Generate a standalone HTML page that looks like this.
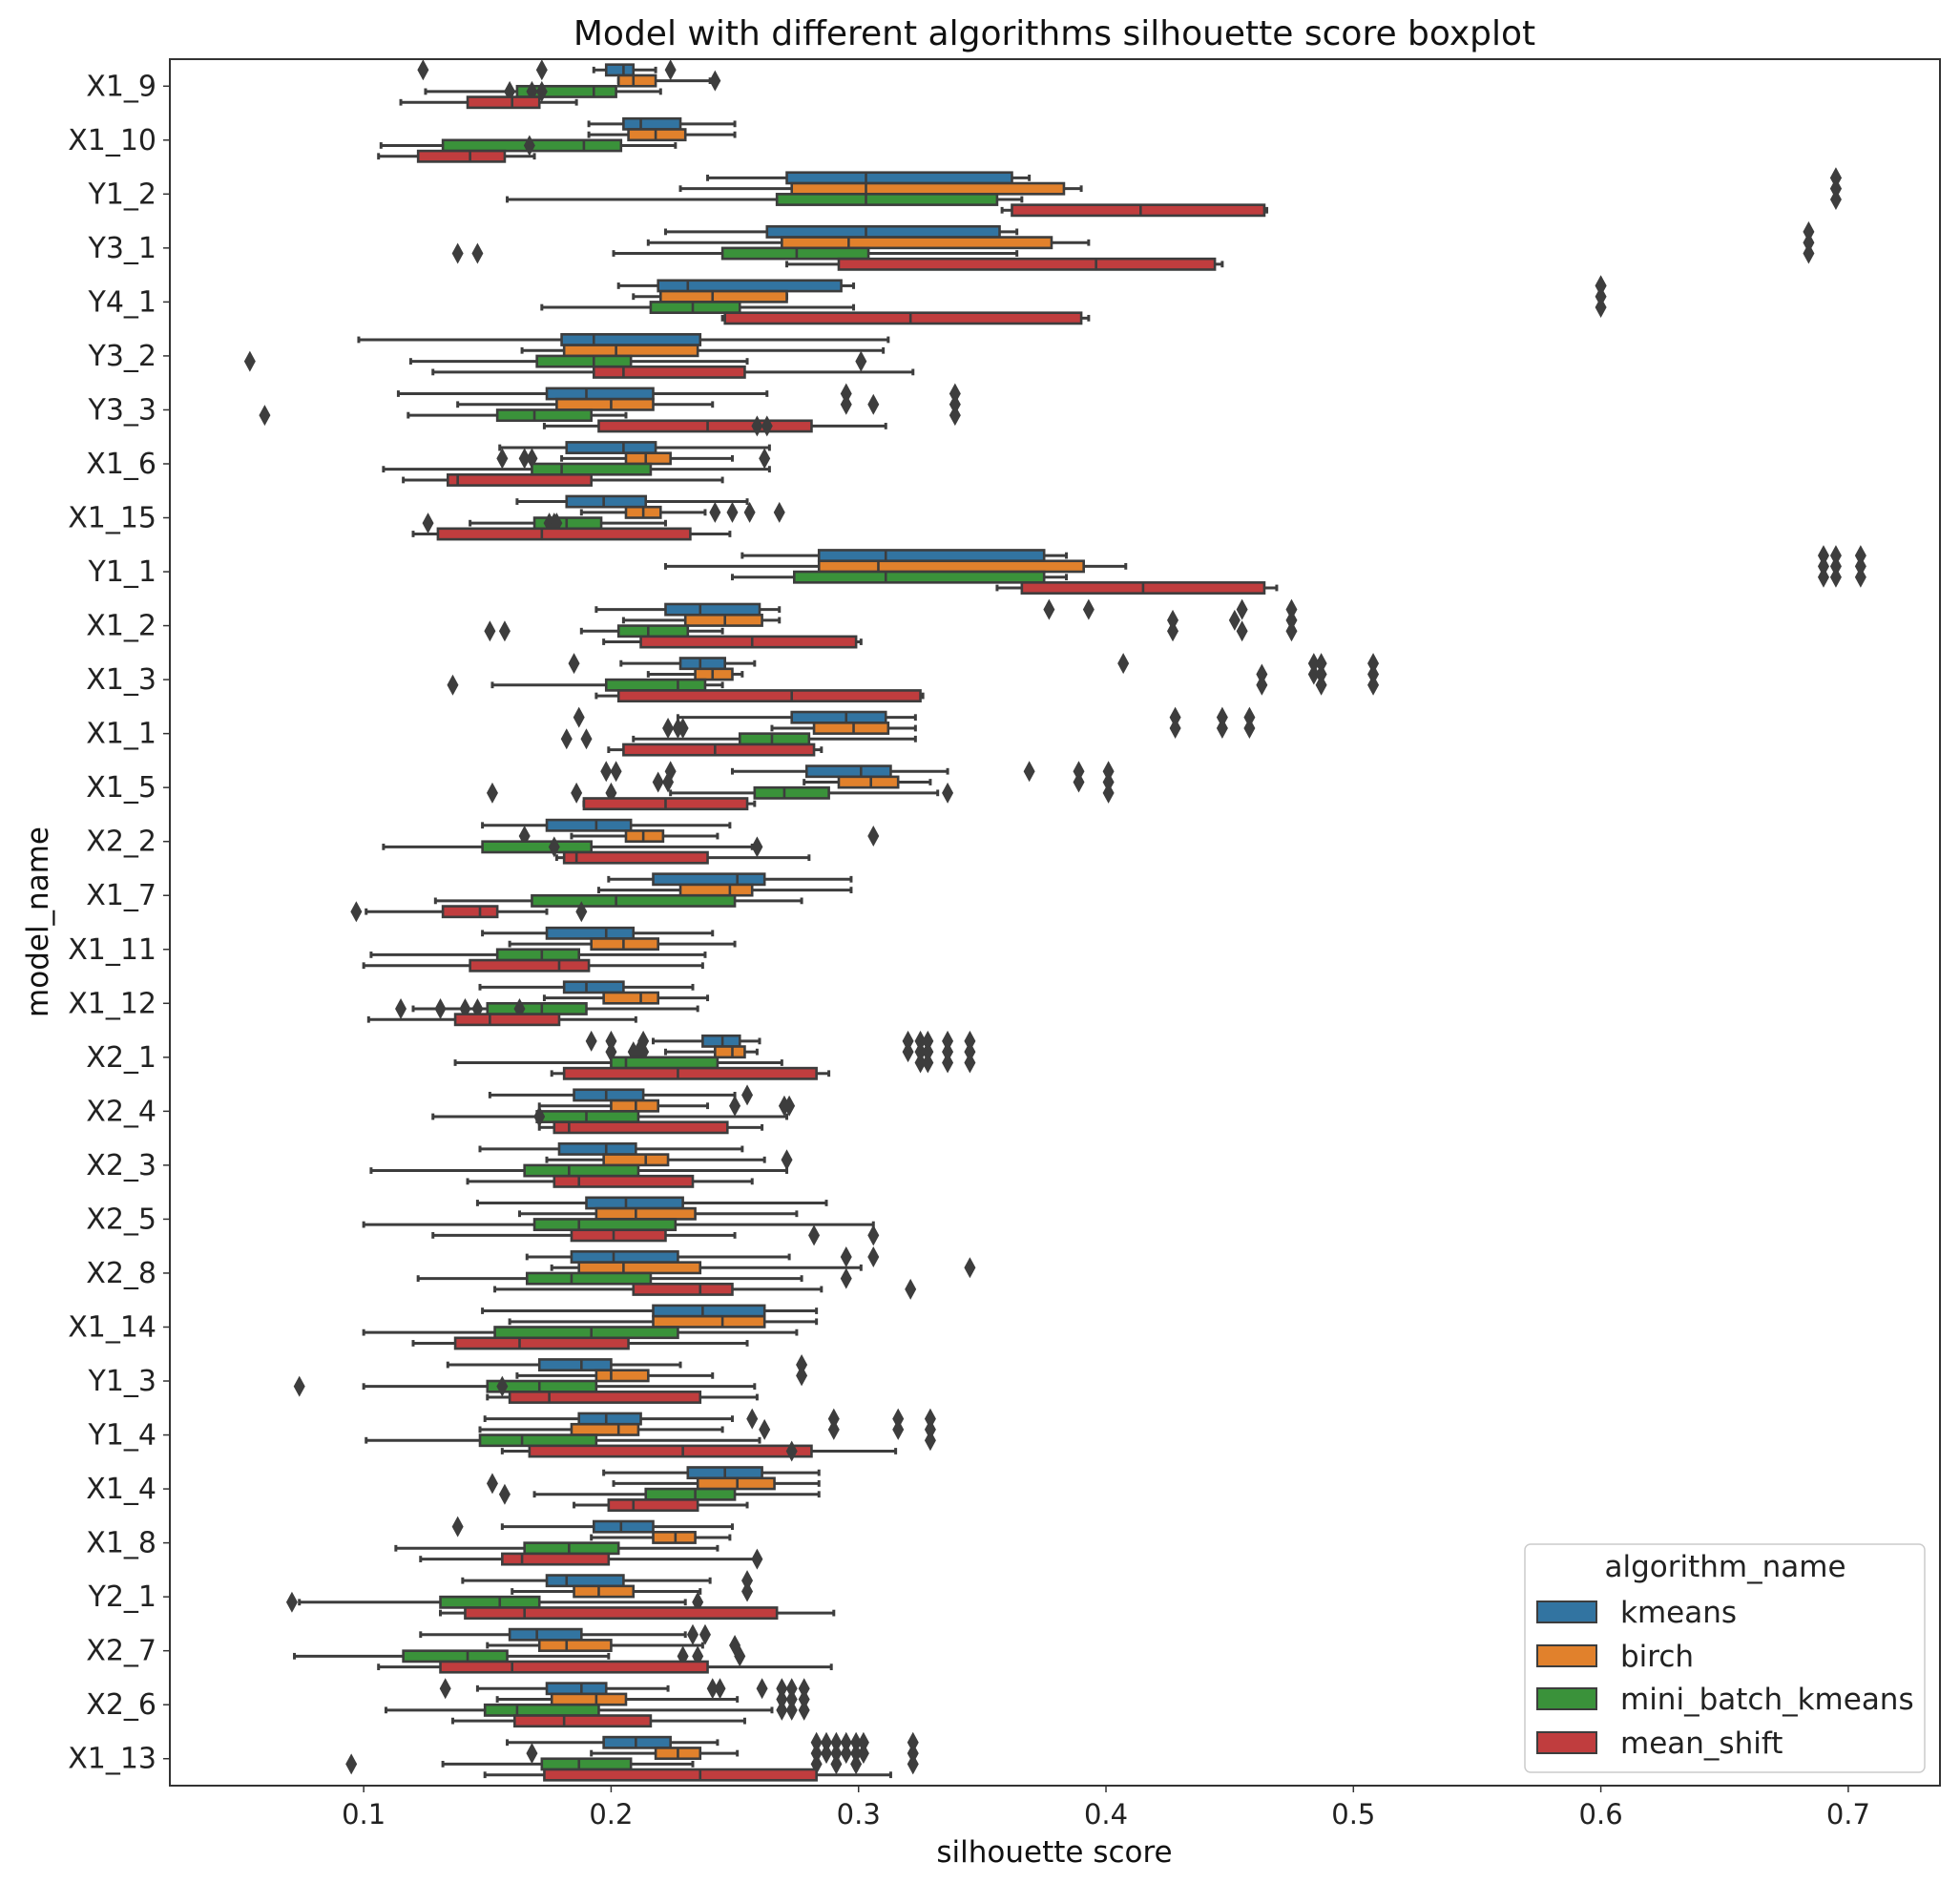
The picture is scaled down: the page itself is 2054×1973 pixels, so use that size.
<!DOCTYPE html>
<html><head><meta charset="utf-8"><style>
html,body{margin:0;padding:0;background:#fff;}
svg{display:block;font-family:"DejaVu Sans","Liberation Sans",sans-serif;}
</style></head><body>
<svg id="chart" width="2054" height="1973" viewBox="0 0 2054 1973" xmlns="http://www.w3.org/2000/svg">
<rect x="0" y="0" width="2054" height="1973" fill="#fff"/>
<text x="1105" y="47" text-anchor="middle" font-size="36" fill="#111">Model with different algorithms silhouette score boxplot</text>
<text x="1105" y="1951" text-anchor="middle" font-size="31" fill="#111">silhouette score</text>
<text x="0" y="0" transform="translate(50,966) rotate(-90)" text-anchor="middle" font-size="31" fill="#111">model_name</text>
<g id="marks"></g>
<rect x="178" y="62" width="1855" height="1809" fill="none" stroke="#333" stroke-width="2"/>
<g id="legend">
<rect x="1598" y="1618" width="419" height="239" rx="6" fill="#fff" fill-opacity="0.85" stroke="#ccc" stroke-width="1.5"/>
<text x="1808" y="1652" text-anchor="middle" font-size="31" fill="#222">algorithm_name</text>
</g>
</svg>
<script>
const categories = ["X1_9","X1_10","Y1_2","Y3_1","Y4_1","Y3_2","Y3_3","X1_6","X1_15","Y1_1","X1_2","X1_3","X1_1","X1_5","X2_2","X1_7","X1_11","X1_12","X2_1","X2_4","X2_3","X2_5","X2_8","X1_14","Y1_3","Y1_4","X1_4","X1_8","Y2_1","X2_7","X2_6","X1_13"];
const algorithms = ["kmeans","birch","mini_batch_kmeans","mean_shift"];
const xTicks = [0.1,0.2,0.3,0.4,0.5,0.6,0.7];
const xTickLabels = ["0.1","0.2","0.3","0.4","0.5","0.6","0.7"];
// five-number summaries [whisker low, q1, median, q3, whisker high]
const kmeansStats = [[.193,.198,.205,.209,.218],[.191,.205,.212,.228,.250],[.239,.271,.303,.362,.369],[.222,.263,.303,.357,.364],[.203,.219,.231,.293,.298],[.098,.180,.193,.236,.312],[.114,.174,.190,.217,.263],[.155,.182,.205,.218,.264],[.162,.182,.197,.214,.255],[.253,.284,.311,.375,.384],[.194,.222,.236,.260,.268],[.204,.228,.236,.246,.258],[.227,.273,.295,.311,.323],[.249,.279,.301,.313,.336],[.148,.174,.194,.208,.248],[.199,.217,.251,.262,.297],[.148,.174,.198,.209,.241],[.147,.181,.190,.205,.233],[.217,.237,.245,.252,.260],[.151,.185,.198,.213,.250],[.147,.179,.198,.210,.253],[.146,.190,.206,.229,.287],[.166,.184,.201,.227,.272],[.148,.217,.237,.262,.283],[.134,.171,.188,.200,.228],[.149,.187,.198,.212,.249],[.197,.231,.246,.261,.284],[.156,.193,.204,.217,.249],[.140,.174,.182,.205,.240],[.123,.159,.170,.188,.230],[.146,.174,.188,.198,.223],[.158,.197,.210,.224,.243]];
const kmeansOutliers = [[.124,.172,.224],[],[.695,.695],[.684],[.600,.600],[],[.295,.339],[],[],[.690,.695,.705],[.377,.393,.455,.475],[.185,.407,.484,.487,.508],[.187,.428,.447,.458],[.198,.202,.224,.369,.389,.401],[],[],[],[],[.192,.200,.213,.320,.325,.328,.336,.345],[.255],[],[],[.295,.306],[],[.277],[.257,.290,.316,.329],[],[.138],[.255],[.233,.238],[.133,.241,.244,.261,.269,.273,.278],[.283,.287,.291,.295,.299,.302,.322]];
const birchStats = [[.203,.203,.209,.218,.240],[.191,.207,.218,.230,.250],[.228,.273,.303,.383,.390],[.215,.269,.296,.378,.393],[.209,.220,.241,.271,.271],[.164,.181,.202,.235,.310],[.138,.178,.200,.217,.241],[.180,.206,.214,.224,.249],[.188,.206,.213,.220,.238],[.222,.284,.308,.391,.408],[.205,.230,.246,.261,.268],[.215,.234,.241,.249,.253],[.265,.282,.298,.312,.323],[.278,.292,.305,.316,.329],[.184,.206,.213,.221,.243],[.195,.228,.248,.257,.297],[.159,.192,.205,.219,.250],[.173,.197,.212,.219,.239],[.222,.242,.249,.254,.259],[.171,.200,.210,.219,.239],[.174,.197,.214,.223,.262],[.163,.194,.210,.234,.275],[.176,.187,.205,.236,.301],[.159,.217,.245,.262,.283],[.162,.194,.200,.215,.241],[.147,.184,.203,.211,.245],[.201,.235,.251,.266,.284],[.192,.217,.226,.234,.248],[.160,.185,.195,.209,.236],[.150,.171,.182,.200,.237],[.154,.176,.194,.206,.251],[.192,.218,.227,.236,.251]];
const birchOutliers = [[.242],[],[.695,.695],[.684],[.600],[],[.295,.306,.339],[.156,.165,.168,.262],[.242,.249,.256,.268],[.690,.695,.705],[.427,.452,.475],[.463,.484,.487,.508],[.223,.227,.229,.428,.447,.458],[.219,.223,.389,.401],[.165,.306],[],[],[],[.200,.209,.211,.213,.320,.325,.328,.336,.345],[.250,.270,.272],[.271],[],[.345],[],[.277],[.262,.290,.316,.329],[.152],[],[.255],[.250],[.269,.273,.278],[.168,.283,.287,.291,.295,.299,.302,.322]];
const mbkStats = [[.125,.162,.193,.202,.220],[.107,.132,.189,.204,.226],[.158,.267,.303,.356,.366],[.201,.245,.275,.304,.364],[.172,.216,.233,.252,.298],[.119,.170,.193,.208,.255],[.118,.154,.169,.192,.206],[.108,.168,.180,.216,.264],[.143,.169,.182,.196,.222],[.249,.274,.311,.375,.384],[.188,.203,.215,.231,.245],[.152,.198,.227,.238,.245],[.209,.252,.265,.280,.323],[.224,.258,.270,.288,.332],[.108,.148,.176,.192,.257],[.129,.168,.202,.250,.277],[.103,.154,.172,.187,.238],[.120,.150,.172,.190,.235],[.137,.200,.206,.243,.269],[.128,.170,.190,.211,.271],[.103,.165,.183,.211,.271],[.100,.169,.187,.226,.306],[.122,.166,.184,.216,.277],[.100,.153,.192,.227,.275],[.100,.150,.171,.194,.258],[.101,.147,.164,.194,.260],[.169,.214,.234,.250,.284],[.113,.165,.183,.203,.243],[.074,.131,.155,.171,.230],[.072,.116,.142,.158,.199],[.109,.149,.162,.195,.265],[.132,.172,.187,.208,.233]];
const mbkOutliers = [[.159,.168,.172],[.167],[.695],[.138,.146,.684],[.600],[.054,.301],[.060,.339],[],[.126,.175,.177,.178],[.690,.695,.705],[.151,.157,.427,.455,.475],[.136,.463,.487,.508],[.182,.190],[.152,.186,.200,.336,.401],[.177,.259],[],[],[.115,.131,.141,.146,.163],[.325,.328,.336,.345],[.171],[],[],[.295],[],[.074,.156],[.329],[.157],[],[.071,.235],[.229,.235,.252],[.269,.273,.278],[.095,.283,.291,.299,.322]];
const msStats = [[.115,.142,.160,.171,.186],[.106,.122,.143,.157,.169],[.358,.362,.414,.464,.465],[.271,.292,.396,.444,.447],[.245,.246,.321,.390,.393],[.128,.193,.205,.254,.322],[.173,.195,.239,.281,.311],[.116,.134,.138,.192,.245],[.120,.130,.172,.232,.248],[.356,.366,.415,.464,.469],[.197,.212,.257,.299,.301],[.194,.203,.273,.325,.326],[.199,.205,.242,.282,.285],[.189,.189,.222,.255,.258],[.178,.181,.186,.239,.280],[.101,.132,.147,.154,.174],[.100,.143,.179,.191,.237],[.102,.137,.151,.179,.210],[.176,.181,.227,.283,.288],[.171,.177,.183,.247,.261],[.142,.177,.187,.233,.257],[.128,.184,.201,.222,.250],[.153,.209,.236,.249,.285],[.120,.137,.163,.207,.255],[.150,.159,.175,.236,.259],[.156,.167,.229,.281,.315],[.185,.199,.209,.235,.255],[.123,.156,.164,.199,.258],[.131,.141,.165,.267,.290],[.106,.131,.160,.239,.289],[.136,.161,.181,.216,.254],[.149,.173,.236,.283,.313]];
const msOutliers = [[],[],[],[],[],[],[.259,.263],[],[],[],[],[],[],[],[],[.097,.188],[],[],[],[],[],[.282,.306],[.321],[],[],[.273],[],[.259],[],[],[],[]];

const colors = ["#3274a1","#e1812c","#3a923a","#c03d3e"];
const allStats = [kmeansStats, birchStats, mbkStats, msStats];
const allOutliers = [kmeansOutliers, birchOutliers, mbkOutliers, msOutliers];

const NS = "http://www.w3.org/2000/svg";
const AX = {left:178, right:2033, top:62, bottom:1871};
const X0 = 0.02166, X1 = 0.73706;
function xs(v){ return AX.left + (v - X0) / (X1 - X0) * (AX.right - AX.left); }
const band = (AX.bottom - AX.top) / categories.length;
function yc(i){ return AX.top + band * (i + 0.5); }
function mk(tag, attrs, parent){ const e = document.createElementNS(NS, tag); for (const k in attrs) e.setAttribute(k, attrs[k]); parent.appendChild(e); return e; }
const svg = document.getElementById("chart");
const marks = document.getElementById("marks");
const LC = "#3d3d3d";

xTicks.forEach((t, k) => {
  const x = xs(t);
  const tk = mk("line", {x1:x, x2:x, y1:AX.bottom, y2:AX.bottom+7, stroke:"#333", "stroke-width":1.5}, svg);
  
  
  const lb = mk("text", {x:x, y:AX.bottom+40, "text-anchor":"middle", "font-size":29, fill:"#222"}, svg);
  lb.textContent = xTickLabels[k];
  
  
});
categories.forEach((c, i) => {
  const y = yc(i);
  const tk = mk("line", {x1:AX.left-7, x2:AX.left, y1:y, y2:y, stroke:"#333", "stroke-width":1.5}, svg);
  
  
  const lb = mk("text", {x:AX.left-14, y:y+10, "text-anchor":"end", "font-size":30, fill:"#222"}, svg);
  lb.textContent = c;
  
  
});
const bh = band * 0.2;
categories.forEach((c, i) => {
  for (let h = 0; h < 4; h++) {
    const s = allStats[h][i];
    const cy = yc(i) + (h - 1.5) * bh;
    const g = mk("g", {}, marks);
    
    
    mk("line", {x1:xs(s[0]), x2:xs(s[1]), y1:cy, y2:cy, stroke:LC, "stroke-width":3}, g);
    mk("line", {x1:xs(s[3]), x2:xs(s[4]), y1:cy, y2:cy, stroke:LC, "stroke-width":3}, g);
    mk("line", {x1:xs(s[0]), x2:xs(s[0]), y1:cy-bh*0.3, y2:cy+bh*0.3, stroke:LC, "stroke-width":3}, g);
    mk("line", {x1:xs(s[4]), x2:xs(s[4]), y1:cy-bh*0.3, y2:cy+bh*0.3, stroke:LC, "stroke-width":3}, g);
    mk("rect", {x:xs(s[1]), y:cy-bh/2, width:Math.max(1, xs(s[3])-xs(s[1])), height:bh, fill:colors[h], stroke:LC, "stroke-width":2.6}, g);
    mk("line", {x1:xs(s[2]), x2:xs(s[2]), y1:cy-bh/2, y2:cy+bh/2, stroke:LC, "stroke-width":2.6}, g);
    allOutliers[h][i].forEach(v => {
      const x = xs(v);
      const d = mk("path", {d:`M${x} ${cy-11}L${x+6} ${cy}L${x} ${cy+11}L${x-6} ${cy}Z`, fill:"#3d3d3d"}, g);
      
      
    });
  }
});
const lg = document.getElementById("legend");
const legendY = [1689, 1735, 1780, 1826];
algorithms.forEach((a, h) => {
  const g = mk("g", {}, lg);
  
  
  mk("rect", {x:1611, y:legendY[h]-11, width:62, height:22, fill:colors[h], stroke:LC, "stroke-width":2}, g);
  const t = mk("text", {x:1698, y:legendY[h]+11, "font-size":31, fill:"#222"}, g);
  t.textContent = a;
});
</script>
</body></html>
